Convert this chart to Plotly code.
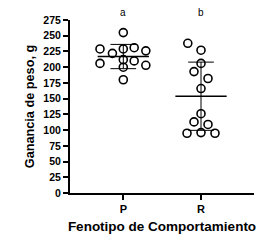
import numpy as np
import plotly.graph_objects as go

categories = ["P", "R"]
group_letters = ["a", "b"]
p_values = [255, 229, 222, 229, 231, 226, 206, 212, 210, 203, 200, 180]
r_values = [238, 227, 206, 193, 182, 166, 126, 113, 109, 95, 96, 95]
y_ticks = [0, 25, 50, 75, 100, 125, 150, 175, 200, 225, 250, 275]

# swarm offsets (category units) for the dot plot
p_jitter = [0.0, -0.30, -0.14, 0.0, 0.14, 0.29, -0.30, 0.0, 0.14, 0.29, 0.0, 0.0]
r_jitter = [-0.17, 0.0, 0.0, -0.09, 0.09, 0.0, 0.0, -0.09, 0.09, -0.18, 0.0, 0.18]

groups = [p_values, r_values]
jitters = [p_jitter, r_jitter]

fig = go.Figure()
for i, (vals, jit) in enumerate(zip(groups, jitters)):
    v = np.array(vals, dtype=float)
    m = v.mean()
    s = v.std(ddof=1)
    # mean line
    fig.add_trace(go.Scatter(x=[i - 0.33, i + 0.33], y=[m, m], mode="lines",
                             line=dict(color="black", width=1.5), showlegend=False, hoverinfo="skip"))
    # SD whisker
    fig.add_trace(go.Scatter(x=[i, i], y=[m - s, m + s], mode="lines",
                             line=dict(color="black", width=1), showlegend=False, hoverinfo="skip"))
    for yy in (m - s, m + s):
        fig.add_trace(go.Scatter(x=[i - 0.165, i + 0.165], y=[yy, yy], mode="lines",
                                 line=dict(color="black", width=1), showlegend=False, hoverinfo="skip"))
    fig.add_trace(go.Scatter(x=[i + j for j in jit], y=vals, mode="markers",
                             marker=dict(symbol="circle-open", size=8, color="black",
                                         line=dict(width=1.6, color="black")),
                             showlegend=False, cliponaxis=False))
    fig.add_annotation(x=i, y=1, xref="x", yref="paper", text=group_letters[i], showarrow=False,
                       yanchor="middle", yshift=8, font=dict(family="Liberation Sans, Arial", size=10, color="black"))

fig.update_layout(
    width=270, height=244,
    margin=dict(l=70, r=16, t=20, b=51),
    plot_bgcolor="white", paper_bgcolor="white",
    font=dict(family="Liberation Sans, Arial", color="black"),
)
fig.update_xaxes(range=[-0.686, 1.682], tickmode="array", tickvals=[0, 1], ticktext=categories,
                 showline=True, linecolor="black", linewidth=2, ticks="outside", ticklen=5,
                 tickwidth=1.5, tickcolor="black", showgrid=False, zeroline=False,
                 tickfont=dict(size=11, family="Liberation Sans, Arial", weight="bold"),
                 title=dict(text="<b>Fenotipo de Comportamiento</b>", font=dict(size=13.5), standoff=7))
fig.update_yaxes(range=[0, 275], tickmode="array", tickvals=y_ticks,
                 showline=True, linecolor="black", linewidth=2, ticks="outside", ticklen=5,
                 tickwidth=1.5, tickcolor="black", showgrid=False, zeroline=False,
                 tickfont=dict(size=10.5, family="Liberation Sans, Arial", weight="bold"),
                 title=dict(text="<b>Ganancia de peso, g</b>", font=dict(size=12.7), standoff=6))

fig.write_html("out.html")
